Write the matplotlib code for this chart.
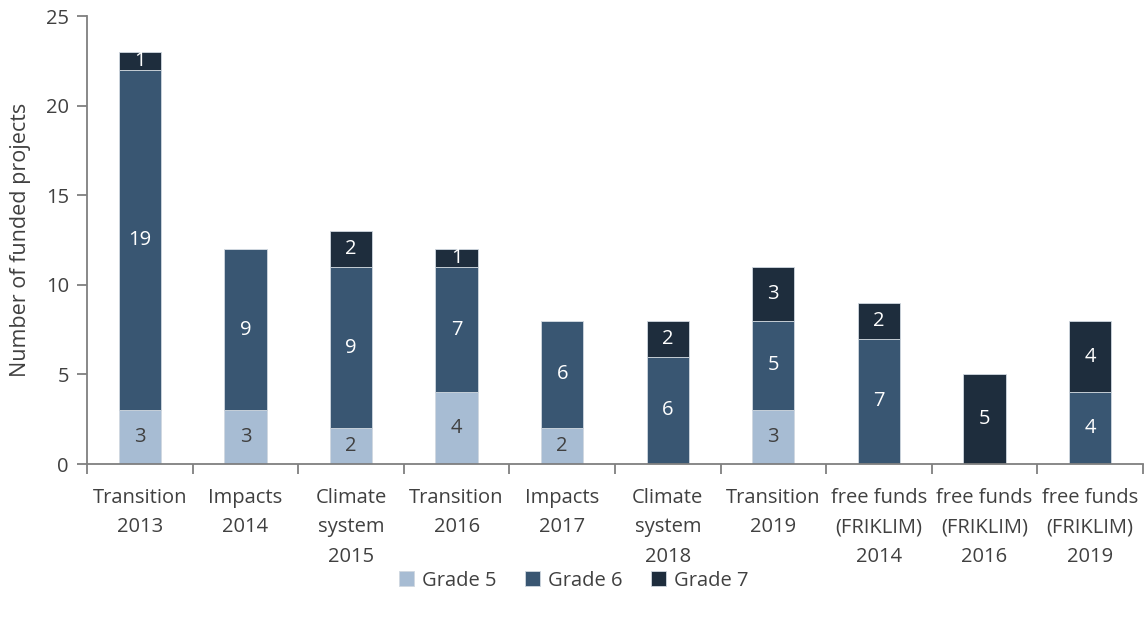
import matplotlib
matplotlib.use("Agg")
import matplotlib.pyplot as plt
import numpy as np

categories = ["Transition\n2013", "Impacts\n2014", "Climate\nsystem\n2015", "Transition\n2016",
              "Impacts\n2017", "Climate\nsystem\n2018", "Transition\n2019",
              "free funds\n(FRIKLIM)\n2014", "free funds\n(FRIKLIM)\n2016", "free funds\n(FRIKLIM)\n2019"]
grade5 = [3, 3, 2, 4, 2, 0, 3, 0, 0, 0]
grade6 = [19, 9, 9, 7, 6, 6, 5, 7, 0, 4]
grade7 = [1, 0, 2, 1, 0, 2, 3, 2, 5, 4]
series_names = ["Grade 5", "Grade 6", "Grade 7"]

colors = ["#A7BCD3", "#395672", "#1E2D3D"]
label_colors = ["#404040", "white", "white"]

plt.rcParams['font.family'] = ['Open Sans', 'DejaVu Sans']
fig = plt.figure(figsize=(11.48, 6.19), dpi=100)
ax = fig.add_axes([0.0758, 0.2504, 0.9198, 0.7236])

FS = 14.5
x = np.arange(len(categories))
bottom = np.zeros(len(categories))
for vals, name, c, lc in zip([grade5, grade6, grade7], series_names, colors, label_colors):
    vals = np.array(vals, dtype=float)
    ax.bar(x, vals, 0.4, bottom=bottom, color=c, label=name,
           edgecolor="#D0D8E0", linewidth=0.6)
    for xi, v, b in zip(x, vals, bottom):
        if v > 0:
            ax.text(xi, b + v / 2, f"{int(v)}", ha="center", va="center",
                    color=lc, fontsize=FS)
    bottom += vals

ax.set_xlim(-0.5, len(categories) - 0.5)
ax.set_ylim(0, 25)
ax.set_yticks(range(0, 26, 5))
ax.set_xticks(np.arange(-0.5, len(categories), 1.0))
ax.set_xticklabels([])
ax.set_xticks(x, minor=True)
ax.set_xticklabels(categories, minor=True, fontsize=FS, color="#404040", linespacing=1.65)
ax.tick_params(axis="x", which="minor", length=0, pad=17)
ax.tick_params(axis="x", which="major", length=7, width=1.3, color="#7F7F7F")
ax.tick_params(axis="y", length=7, width=1.3, color="#7F7F7F", labelsize=FS, labelcolor="#404040", pad=6)

for s in ["top", "right"]:
    ax.spines[s].set_visible(False)
for s in ["left", "bottom"]:
    ax.spines[s].set_color("#7F7F7F")
    ax.spines[s].set_linewidth(1.3)

ax.set_ylabel("Number of funded projects", fontsize=15.5, color="#404040", labelpad=11)

handles, labels = ax.get_legend_handles_labels()
fig.legend(handles, labels, loc="center", bbox_to_anchor=(0.5, 0.062), ncol=3, frameon=False,
           fontsize=FS, labelcolor="#404040", handlelength=0.75, handleheight=0.75,
           handletextpad=0.4, columnspacing=1.4)

fig.savefig("out.png", dpi=100)
